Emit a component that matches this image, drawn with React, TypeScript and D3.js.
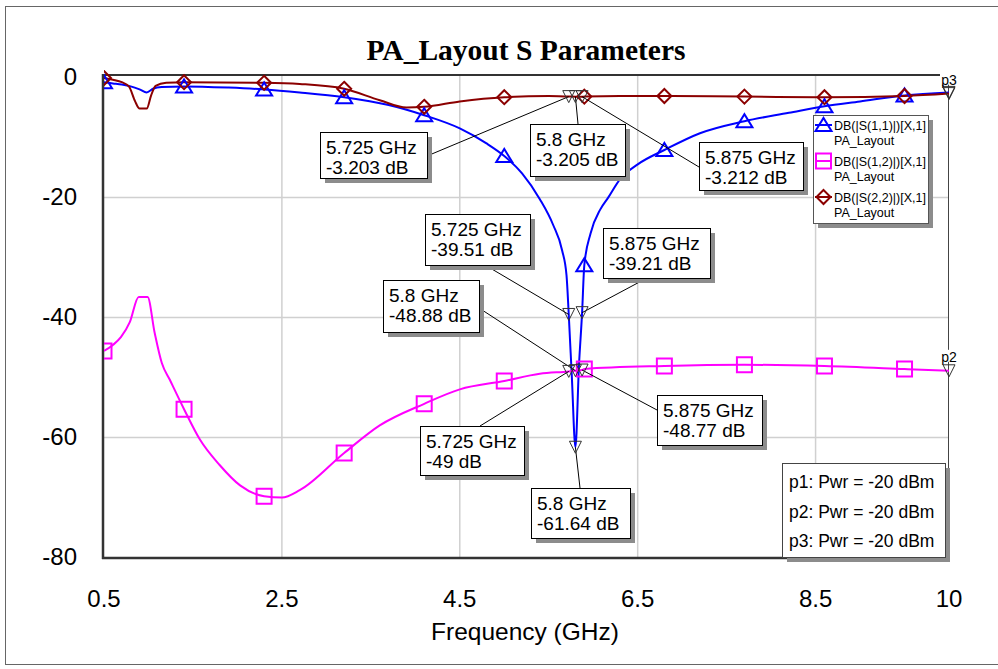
import React from "react";
import * as d3 from "d3";

// S-parameter sweeps of PA_Layout: [frequency GHz, magnitude dB]
const s11: [number, number][] = [
  [0.5, -0.8], [0.6, -1.0], [0.7, -1.2], [0.8, -1.5], [0.9, -2.0], [0.98, -2.5],
  [1.05, -1.9], [1.15, -1.6], [1.4, -1.5], [1.9, -1.7], [2.3, -2.0], [2.7, -2.5],
  [3.2, -3.3], [3.7, -4.6], [4.1, -6.3], [4.5, -8.5], [4.8, -11.0], [5.0, -13.1],
  [5.2, -16.0], [5.4, -20.3], [5.55, -24.6], [5.65, -28.8], [5.7, -33.0],
  [5.725, -39.51], [5.76, -50.0], [5.8, -61.64], [5.84, -48.0], [5.875, -39.21],
  [5.9, -31.3], [5.97, -26.0], [6.08, -22.0], [6.17, -20.0], [6.3, -17.0],
  [6.5, -14.5], [6.8, -12.1], [7.2, -9.3], [7.7, -7.3], [8.2, -5.9], [8.6, -4.8],
  [9.0, -4.0], [9.5, -3.0], [10, -2.5],
];

const s12: [number, number][] = [
  [0.5, -45.6], [0.6, -44.6], [0.69, -43.3], [0.79, -40.8], [0.89, -36.6],
  [0.99, -36.6], [1.07, -42.6], [1.15, -47.6], [1.24, -50.4], [1.4, -55.3],
  [1.58, -60.4], [1.8, -64.6], [2.03, -68.0], [2.3, -69.8], [2.5, -70.0],
  [2.7, -68.8], [3.2, -62.6], [3.6, -58.0], [4.1, -54.4], [4.5, -52.0],
  [5.0, -50.6], [5.4, -49.4], [5.725, -49.0], [5.8, -48.88], [5.875, -48.77],
  [5.9, -48.6], [6.8, -48.1], [7.7, -47.9], [8.6, -48.1], [9.5, -48.6], [10, -48.9],
];

const s22: [number, number][] = [
  [0.5, -0.1], [0.6, -0.4], [0.7, -0.8], [0.78, -1.5], [0.85, -4.0], [0.9, -5.2],
  [0.98, -5.2], [1.03, -3.0], [1.08, -1.4], [1.2, -0.9], [1.4, -0.8], [2.3, -0.9],
  [2.7, -1.1], [3.2, -1.9], [3.6, -3.8], [3.9, -5.0], [4.1, -4.9], [4.5, -4.0],
  [5.0, -3.3], [5.5, -3.1], [5.725, -3.203], [5.8, -3.205], [5.875, -3.212],
  [5.9, -3.2], [6.3, -3.1], [6.8, -3.1], [7.7, -3.2], [8.6, -3.3], [9.5, -3.1],
  [10, -2.7],
];

// Frequencies at which each trace carries its symbol
const symbolFreqs = [0.5, 1.4, 2.3, 3.2, 4.1, 5.0, 5.9, 6.8, 7.7, 8.6, 9.5];

const xTicks = [0.5, 2.5, 4.5, 6.5, 8.5, 10];
const yTicks = [0, -20, -40, -60, -80];
const xGrid = [2.5, 4.5, 6.5, 8.5];
const yGrid = [-20, -40, -60];

const legendNames = ["DB(|S(1,1)|)[X,1]", "DB(|S(1,2)|)[X,1]", "DB(|S(2,2)|)[X,1]"];
const legendSource = "PA_Layout";
const portNotes = ["p1: Pwr = -20 dBm", "p2: Pwr = -20 dBm", "p3: Pwr = -20 dBm"];

// Marker readouts: frequency and value
const readFreqs = [5.725, 5.8, 5.875, 5.725, 5.875, 5.8, 5.875, 5.725, 5.8];
const readValues = [-3.203, -3.205, -3.212, -39.51, -39.21, -48.88, -48.77, -49, -61.64];
const readText = ["5.725 GHz", "5.8 GHz", "5.875 GHz", "5.725 GHz", "5.875 GHz", "5.8 GHz", "5.875 GHz", "5.725 GHz", "5.8 GHz"];

// Readout box placement (left, top, width, height, leader attach x, y)
const readBoxes = [
  [320, 132, 107, 46, 427, 156],
  [530, 124, 95, 52, 578, 124],
  [699, 142, 104, 48, 699, 167],
  [425, 214, 105, 51, 485, 265],
  [603, 228, 107, 50, 647, 278],
  [383, 280, 96, 52, 479, 308],
  [657, 395, 105, 50, 657, 410],
  [420, 426, 104, 49, 480, 426],
  [531, 488, 99, 50, 580, 488],
];

const BLUE = "#0000FF";
const MAGENTA = "#FF00FF";
const DARKRED = "#8B0000";
const SANS = "'Liberation Sans', Arial, sans-serif";

const x = d3.scaleLinear().domain([0.5, 10]).range([104, 949]);
const y = d3.scaleLinear().domain([0.4, -80]).range([75, 557.4]);

const line = d3
  .line<[number, number]>()
  .x((d) => x(d[0]))
  .y((d) => y(d[1]))
  .curve(d3.curveMonotoneX);

const valueAt = (data: [number, number][], f: number) =>
  (data.find((d) => Math.abs(d[0] - f) < 1e-9) ?? data[0])[1];

function triUp(cx: number, cy: number) {
  return `M${cx - 8},${cy + 6}L${cx + 8},${cy + 6}L${cx},${cy - 7}Z`;
}
function square(cx: number, cy: number) {
  return `M${cx - 7.5},${cy - 7.5}h15v15h-15Z`;
}
function diamond(cx: number, cy: number) {
  return `M${cx},${cy - 7}L${cx + 7},${cy}L${cx},${cy + 7}L${cx - 7},${cy}Z`;
}
function triDown(cx: number, cy: number) {
  return `M${cx - 6},${cy - 6}L${cx + 6},${cy - 6}L${cx},${cy + 6}Z`;
}

const series = [
  { data: s11, color: BLUE, sym: triUp },
  { data: s12, color: MAGENTA, sym: square },
  { data: s22, color: DARKRED, sym: diamond },
];

export default function App() {
  const portLabels = [
    { name: "p1", v: valueAt(s11, 10) },
    { name: "p3", v: valueAt(s22, 10) },
    { name: "p2", v: valueAt(s12, 10) },
  ];
  return (
    <svg
      width={998}
      height={669}
      style={{ position: "absolute", left: 0, top: 0, background: "#fff" }}
      fontFamily={SANS}
    >
      <defs>
        <clipPath id="plotClip">
          <rect x={104} y={70} width={845} height={488} />
        </clipPath>
      </defs>
      <rect x={5.5} y={6.5} width={1000} height={658} fill="#fff" stroke="#666" />

      <text x={526} y={60} textAnchor="middle" fontFamily="'Liberation Serif', 'Times New Roman', serif" fontWeight="bold" fontSize={29.5}>
        PA_Layout S Parameters
      </text>

      {/* grid */}
      {xGrid.map((g) => (
        <line key={"gx" + g} x1={x(g)} x2={x(g)} y1={75} y2={557} stroke="#d0d0d0" strokeWidth={1.5} />
      ))}
      {yGrid.map((g) => (
        <line key={"gy" + g} x1={104} x2={949} y1={y(g)} y2={y(g)} stroke="#d0d0d0" strokeWidth={1.5} />
      ))}

      {/* frame */}
      <line x1={103} x2={949} y1={75} y2={75} stroke="#333" strokeWidth={2} />
      <line x1={948.5} x2={948.5} y1={75} y2={558} stroke="#444" strokeWidth={1} />
      <line x1={103} x2={103} y1={74} y2={559} stroke="#333" strokeWidth={2.5} />
      <line x1={102} x2={949} y1={558} y2={558} stroke="#333" strokeWidth={2.5} />

      {/* tick labels */}
      {yTicks.map((t) => (
        <text key={"yt" + t} x={77} y={y(t) + 8} textAnchor="end" fontSize={24}>
          {t}
        </text>
      ))}
      {xTicks.map((t) => (
        <text key={"xt" + t} x={x(t)} y={607} textAnchor="middle" fontSize={24}>
          {t}
        </text>
      ))}
      <text x={525} y={640} textAnchor="middle" fontSize={24.5}>
        Frequency (GHz)
      </text>

      {/* traces */}
      <g clipPath="url(#plotClip)">
        {series.map((s, i) => (
          <path key={"l" + i} d={line(s.data) ?? ""} fill="none" stroke={s.color} strokeWidth={2} />
        ))}
        {series.map((s, i) =>
          symbolFreqs.map((f) => (
            <path
              key={"m" + i + f}
              d={s.sym(x(f), y(valueAt(s.data, f)))}
              fill="none"
              stroke={s.color}
              strokeWidth={2}
            />
          ))
        )}
      </g>

      {/* readout leaders */}
      {readFreqs.map((f, i) => (
        <line
          key={"ld" + i}
          x1={readBoxes[i][4]}
          y1={readBoxes[i][5]}
          x2={x(f)}
          y2={y(readValues[i])}
          stroke="#000"
          strokeWidth={1}
        />
      ))}
      {readFreqs.map((f, i) => (
        <path key={"rm" + i} d={triDown(x(f), y(readValues[i]))} fill="none" stroke="#333" strokeWidth={1} />
      ))}

      {/* port markers at sweep end */}
      {portLabels.map((p) => (
        <g key={p.name}>
          <rect x={940} y={y(p.v) - 21} width={17} height={12} fill="#fff" />
          <text x={949} y={y(p.v) - 9} textAnchor="middle" fontSize={14}>
            {p.name}
          </text>
          <path d={triDown(949, y(p.v))} fill="none" stroke="#333" strokeWidth={1} />
        </g>
      ))}

      {/* readout boxes */}
      {readBoxes.map((b, i) => (
        <g key={"rb" + i}>
          <rect x={b[0] + 5} y={b[1] + 5} width={b[2]} height={b[3]} fill="#8c8c8c" />
          <rect x={b[0] + 0.5} y={b[1] + 0.5} width={b[2]} height={b[3]} fill="#fff" stroke="#000" strokeWidth={1} />
          <text x={b[0] + 6} y={b[1] + 22} fontSize={19}>
            {readText[i]}
          </text>
          <text x={b[0] + 6} y={b[1] + 42} fontSize={19}>
            {`${readValues[i]} dB`}
          </text>
        </g>
      ))}

      {/* legend */}
      <g>
        <rect x={818} y={120} width={115} height={108} fill="#8c8c8c" />
        <rect x={813.5} y={115.5} width={115} height={108} fill="#fff" stroke="#555" />
        {series.map((s, i) => {
          const cy = 125 + i * 36;
          return (
            <g key={"lg" + i}>
              <line x1={815} x2={832} y1={cy} y2={cy} stroke={s.color} strokeWidth={2} />
              <path d={s.sym(823.5, cy)} fill="none" stroke={s.color} strokeWidth={2} />
              <text x={834} y={cy + 5} fontSize={12.5}>
                {legendNames[i]}
              </text>
              <text x={834} y={cy + 20} fontSize={12.5}>
                {legendSource}
              </text>
            </g>
          );
        })}
      </g>

      {/* port power notes */}
      <g>
        <rect x={787} y={468} width={163} height={94} fill="#8c8c8c" />
        <rect x={782.5} y={463.5} width={163} height={94} fill="#fff" stroke="#444" />
        {portNotes.map((t, i) => (
          <text key={t} x={789} y={488 + i * 29.5} fontSize={17.5}>
            {t}
          </text>
        ))}
      </g>
    </svg>
  );
}
